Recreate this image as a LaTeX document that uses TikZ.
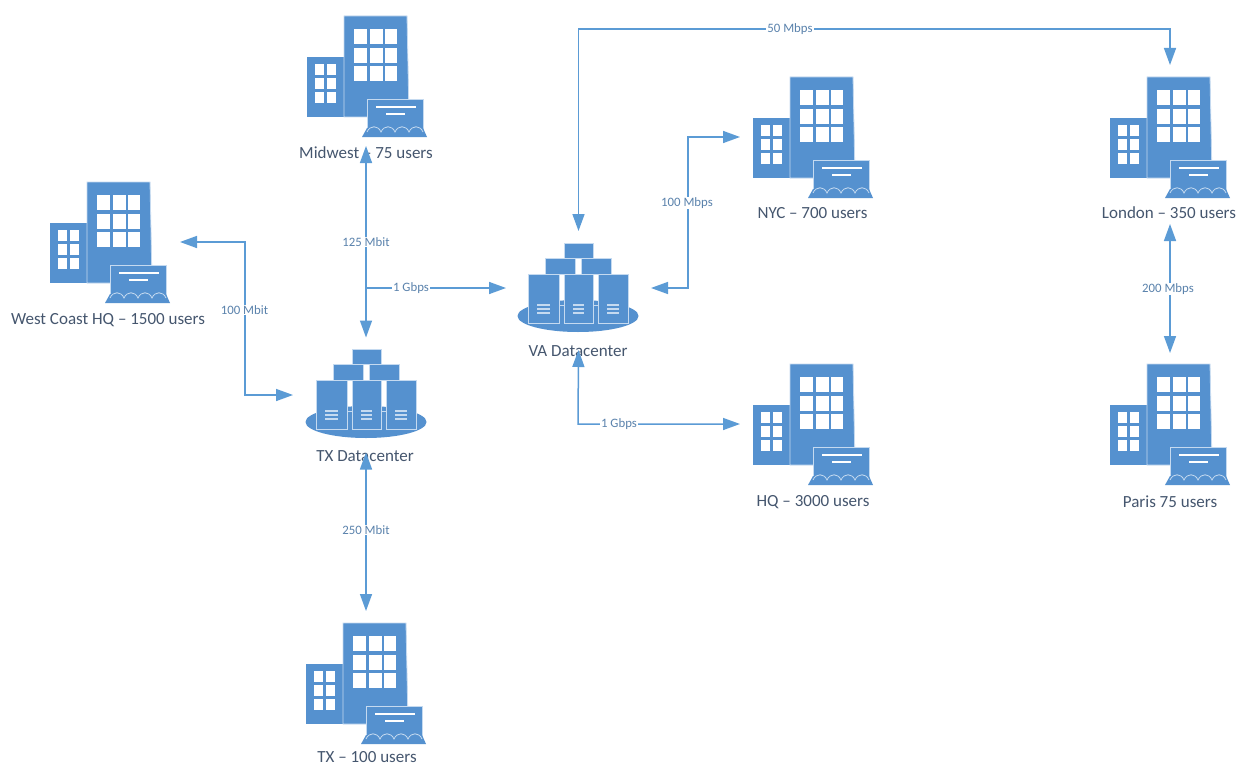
\documentclass[tikz,border=0pt]{standalone}
\usepackage{fontspec}
\setmainfont{Carlito}
\usetikzlibrary{arrows.meta}
\definecolor{iconblue}{HTML}{5591CF}
\definecolor{iconpale}{HTML}{C5DAF0}
\definecolor{wireblue}{HTML}{5B9BD5}
\definecolor{titletext}{HTML}{45566E}
\definecolor{ratetext}{HTML}{5A82AC}
\tikzset{
  x=1pt,y=-1pt,
  iconfill/.style={fill=iconblue,draw=none},
  iconedge/.style={fill=iconblue,draw=iconpale,line width=0.8pt},
  glass/.style={fill=white,draw=none},
  port/.style={inner sep=0pt,outer sep=0pt,draw=none,fill=none},
  sitelabel/.style={font=\fontsize{17}{19}\selectfont,text=titletext,inner sep=0pt},
  ratelabel/.style={font=\fontsize{12.8}{14}\selectfont,text=ratetext,fill=white,inner xsep=1.5pt,inner ysep=1pt},
  wire/.style={draw=wireblue,line width=1.5pt},
  twoway/.style={wire,{Triangle[length=17pt,width=12pt]}-{Triangle[length=17pt,width=12pt]}},
  oneway/.style={wire,-{Triangle[length=17pt,width=12pt]}},
  pics/office/.style={code={
    % small block
    \path[iconfill] (-37,41) rectangle (0,101);
    \foreach \cx in {-29,-17} \foreach \cy in {48,62,76}
      \path[glass] (\cx,\cy) rectangle ++(9,11);
    % tower
    \path[iconedge] (0,0) -- (63,0) -- (65,101) -- (0,101) -- cycle;
    \foreach \cx/\w in {10/13,26/13,41/12} \foreach \cy in {13,32,50}
      \path[glass] (\cx,\cy) rectangle ++(\w,15);
    % laptop
    \path[iconedge] (23,83) rectangle (79,114);
    \path[iconfill] (23,112) -- (18,121) -- (83,121) -- (79,112) -- cycle;
    \draw[white,line width=1.4pt] (32,91) -- (72,91) (42,98) -- (61,98);
    \draw[iconpale,line width=0.8pt] (23,116) .. controls (26,109) and (34,109) .. (37,116)
      .. controls (40,109) and (48,109) .. (51,116)
      .. controls (54,109) and (62,109) .. (65,116)
      .. controls (68,109) and (76,109) .. (79,116);
  }},
  pics/serverfarm/.style={code={
    % origin is the centre of the plinth
    \path[iconfill] (0,0) ellipse [x radius=60.5,y radius=16];
    \path[iconedge] (-14,-73) rectangle (15,-58);
    \path[iconedge] (-33,-58) rectangle (-3,-42);
    \path[iconedge] (3,-58) rectangle (33,-42);
    \foreach \cx/\w in {-50/31,-14/29,20/30} {
      \path[iconedge] (\cx,-42) rectangle ++(\w,49);
      \draw[iconpale,line width=1.1pt]
        (\cx+9,-11) -- ++(\w-18,0) (\cx+9,-7) -- ++(\w-18,0) (\cx+9,-3) -- ++(\w-18,0);
    }
    \draw[iconpale,line width=0.8pt] (-19,-11) -- (-14,-11) (15,-11) -- (20,-11);
  }}
}
\begin{document}
\begin{tikzpicture}
\useasboundingbox (0,0) rectangle (1236,765);
\fill[white] (0,0) rectangle (1236,765);

% icons
\pic at (344,16) {office};
\pic at (87,182) {office};
\pic at (343,623) {office};
\pic at (790,77) {office};
\pic at (790,364) {office};
\pic at (1147,77) {office};
\pic at (1147,364) {office};
\pic at (366,422) {serverfarm};
\pic at (578,316) {serverfarm};

% site captions
\node[sitelabel] (midwesttext) at (366,152.5) {Midwest – 75 users};
\node[sitelabel] (westtext) at (108,320) {West Coast HQ – 1500 users};
\node[sitelabel] (txdctext) at (365,456) {TX Datacenter};
\node[sitelabel] (vadctext) at (578,351) {VA Datacenter};
\node[sitelabel] (nyctext) at (812.5,213) {NYC – 700 users};
\node[sitelabel] (hqtext) at (813,502) {HQ – 3000 users};
\node[sitelabel] (londontext) at (1169,213) {London – 350 users};
\node[sitelabel] (paristext) at (1170,502) {Paris 75 users};
\node[sitelabel] (txtext) at (367,757.5) {TX – 100 users};

% invisible boxes around each site: the connectors end on their borders
\node[port,minimum width=118pt,minimum height=130pt] (midwest) at (366,81) {};
\node[port,minimum width=130pt,minimum height=120pt] (westcoast) at (115,242) {};
\node[port,minimum width=146pt,minimum height=115pt] (txdc) at (366,395) {};
\node[port,minimum width=145pt,minimum height=119pt] (vadc) at (578.5,290.5) {};
\node[port,minimum width=130pt,minimum height=120pt] (nyc) at (805,137) {};
\node[port,minimum width=130pt,minimum height=120pt] (hq) at (805,424) {};
\node[port,minimum width=120pt,minimum height=159pt] (london) at (1170,144.5) {};
\node[port,minimum width=120pt,minimum height=127pt] (paris) at (1170,416.5) {};
\node[port,minimum width=120pt,minimum height=149pt] (txsite) at (366,685.5) {};

% bends and branch points
\coordinate (westbend) at (245,310);
\coordinate (nycbend) at (688,203);
\coordinate (hqbend) at (578,424);
\coordinate (topbend) at (790,29);
\coordinate (branch) at (366,288);

% connectors
\draw[twoway] (midwest.south) -- (txdc.north);
\draw[oneway] (branch) -- ([yshift=2.5pt]vadc.west);
\draw[twoway] (westcoast.east) -| (westbend) |- (txdc.west);
\draw[twoway] (txdc.south) -- (txsite.north);
\draw[twoway] ([yshift=2.5pt]vadc.east) -| (nycbend) |- (nyc.west);
\draw[twoway] (vadc.south) -- (hqbend) -- (hq.west);
\draw[twoway] (vadc.north) |- (topbend) -| (london.north);
\draw[twoway] (london.south) -- (paris.north);

% rate labels
\node[ratelabel] (r125) at (366,242) {125 Mbit};
\node[ratelabel] (r1a) at (411,288) {1 Gbps};
\node[ratelabel] (r100a) at (244.5,310) {100 Mbit};
\node[ratelabel] (r250) at (366,530) {250 Mbit};
\node[ratelabel] (r100b) at (687,203) {100 Mbps};
\node[ratelabel] (r1b) at (619,424) {1 Gbps};
\node[ratelabel] (r50) at (790,29) {50 Mbps};
\node[ratelabel] (r200) at (1168,289) {200 Mbps};
\end{tikzpicture}
\end{document}
